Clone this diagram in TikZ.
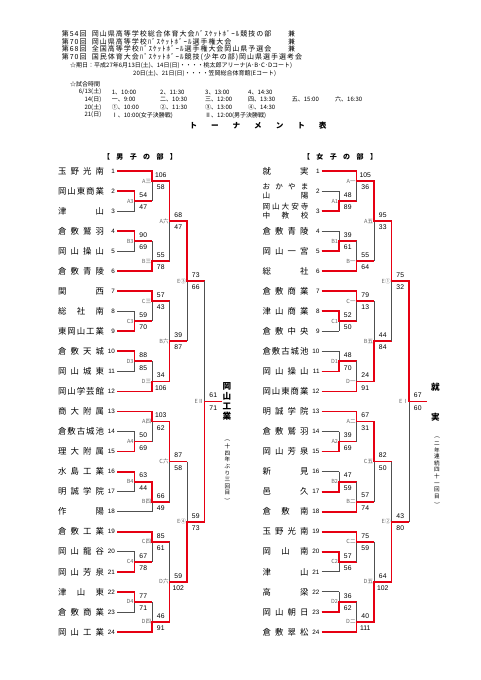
\documentclass[tikz,border=0pt]{standalone}
\usepackage{fontspec}
\setmainfont{Noto Sans CJK JP}
\newfontfamily\numfont{Liberation Sans}
\newfontfamily\hdrfont[LetterSpace=14]{Noto Sans CJK JP}
\usetikzlibrary{positioning}
\definecolor{winline}{HTML}{E60012}
\definecolor{loseline}{HTML}{505050}
\definecolor{boutgray}{HTML}{666666}

% row -> y (rows are 20.04pt apart, row 1 at 171)
\newcommand\ry[1]{(171+20.04*(#1-1))}

% spread the characters of a name over a fixed width
\makeatletter
\newcommand\spread[2][46pt]{\makebox[#1][s]{\spread@#2\@nil}}
\def\spread@#1#2\@nil{#1\ifx\relax#2\relax\else\hfil\spread@#2\@nil\fi}
\makeatother

% team row: id, number, name, end column, line style
\newcommand\team[5]{%
  \node[tname] (#1) at (-36,{\ry{#2}}) {#3};
  \node[tnum] (#1n) at (-1.8,{\ry{#2}}) {#2};
  \draw[#5] (0,{\ry{#2}}) -- ({17.5*#4},{\ry{#2}});}

% bout: id, column, upper row, lower row, exit row, winner row, label, upper score, lower score
\newcommand\bout[9]{%
  \draw[lose] ({17.5*#2},{\ry{#3}}) -- ({17.5*#2},{\ry{#4}});
  \draw[win] ({17.5*(#2-1)},{\ry{#6}}) -- ({17.5*#2},{\ry{#6}})
    -- ({17.5*#2},{\ry{#5}}) -- ({17.5*(#2+1)},{\ry{#5}});
  \node[blbl] (#1) at ({17.5*#2-0.7},{\ry{#5}}) {#7};
  \node[score] (#1a) at ({17.5*#2+8.75},{\ry{#5}-6}) {#8};
  \node[score] (#1b) at ({17.5*#2+8.75},{\ry{#5}+6.3}) {#9};}

\begin{document}
\begin{tikzpicture}[x=1pt, y=-1pt,
    win/.style={draw=winline, line width=1.8pt},
    lose/.style={draw=loseline, line width=0.75pt},
    blbl/.style={font=\fontsize{5.6}{6}\selectfont, text=boutgray, anchor=east, inner sep=0pt},
    score/.style={font=\numfont\fontsize{6.8}{7}\selectfont, inner sep=0pt},
    tname/.style={font=\fontsize{8.4}{9}\selectfont, inner sep=0pt, align=center},
    tnum/.style={font=\numfont\fontsize{6.3}{7}\selectfont, inner sep=0pt, anchor=east},
    hdr/.style={font=\hdrfont\fontsize{7}{7}\selectfont, inner sep=0pt, anchor=west},
    sched/.style={font=\fontsize{6}{6}\selectfont, inner sep=0pt, anchor=west},
    champ/.style={font=\fontsize{8.6}{10}\selectfont\bfseries, inner sep=0pt, align=center},
    vnote/.style={font=\fontsize{5.6}{6.6}\selectfont, inner sep=0pt, align=center}]
\path[fill=white, use as bounding box] (0,0) rectangle (481,680);

% --- heading ---
\node[hdr] (h1) at (61.7,34.3) {第54回};
\node[hdr] (h1t) at (91.7,34.3) {岡山県高等学校総合体育大会ﾊﾞｽｹｯﾄﾎﾞｰﾙ競技の部};
\node[hdr] (h1k) at (288,34.3) {兼};
\node[hdr] (h2) at (61.7,41.8) {第70回};
\node[hdr] (h2t) at (91.7,41.8) {岡山県高等学校ﾊﾞｽｹｯﾄﾎﾞｰﾙ選手権大会};
\node[hdr] (h2k) at (288,41.8) {兼};
\node[hdr] (h3) at (61.7,49.3) {第68回};
\node[hdr] (h3t) at (91.7,49.3) {全国高等学校ﾊﾞｽｹｯﾄﾎﾞｰﾙ選手権大会岡山県予選会};
\node[hdr] (h3k) at (288,49.3) {兼};
\node[hdr] (h4) at (61.7,56.8) {第70回};
\node[hdr] (h4t) at (91.7,56.8) {国民体育大会ﾊﾞｽｹｯﾄﾎﾞｰﾙ競技(少年の部)岡山県選手選考会};

% --- dates and times ---
\node[sched] (date1) at (70,66) {☆期日：平成27年6月13日(土)、14日(日)・・・・桃太郎アリーナ(A･B･C･Dコート)};
\node[sched] (date2) at (133,74) {20日(土)、21日(日)・・・・笠岡総合体育館(Eコート)};
\node[sched] (times) at (70,84) {☆試合時間};
\node[sched, anchor=east] (day1) at (101.5,92) {6/13(土)};
\node[sched, anchor=east] (day2) at (101.5,99.7) {14(日)};
\node[sched, anchor=east] (day3) at (101.5,107.4) {20(土)};
\node[sched, anchor=east] (day4) at (101.5,115.1) {21(日)};
\foreach \x/\t [count=\i] in {111.7/1、10:00, 160/2、11:30, 205/3、13:00, 248/4、14:30}
  \node[sched] (ta\i) at (\x,92) {\t};
\foreach \x/\t [count=\i] in {111.7/一、9:00, 160/二、10:30, 205/三、12:00, 248/四、13:30, 291.7/五、15:00, 335/六、16:30}
  \node[sched] (tb\i) at (\x,99.7) {\t};
\foreach \x/\t [count=\i] in {111.7/①、10:00, 160/②、11:30, 205/③、13:00, 248/④、14:30}
  \node[sched] (tc\i) at (\x,107.4) {\t};
\node[sched] (td1) at (111.7,115.1) {Ⅰ、10:00(女子決勝戦)};
\node[sched] (td2) at (205,115.1) {Ⅱ、12:00(男子決勝戦)};

\node[font=\fontsize{7.6}{8}\selectfont\bfseries, inner sep=0pt] (title) at (258,126) {\spread[137pt]{トーナメント表}};
\node[font=\fontsize{7}{8}\selectfont\bfseries, inner sep=0pt] (mhead) at (140,156.5) {\spread[74pt]{【男子の部】}};
\node[font=\fontsize{7}{8}\selectfont\bfseries, inner sep=0pt] (whead) at (340,156.5) {\spread[74pt]{【女子の部】}};

% --- boys ---
\begin{scope}[xshift=117pt]
\team{m1}{1}{\spread{玉野光南}}{2}{win}
\team{m2}{2}{\spread{岡山東商業}}{1}{win}
\team{m3}{3}{\spread{津山}}{1}{lose}
\team{m4}{4}{\spread{倉敷鷲羽}}{1}{win}
\team{m5}{5}{\spread{岡山操山}}{1}{lose}
\team{m6}{6}{\spread{倉敷青陵}}{2}{win}
\team{m7}{7}{\spread{関西}}{2}{win}
\team{m8}{8}{\spread{総社南}}{1}{lose}
\team{m9}{9}{\spread{東岡山工業}}{1}{win}
\team{m10}{10}{\spread{倉敷天城}}{1}{win}
\team{m11}{11}{\spread{岡山城東}}{1}{lose}
\team{m12}{12}{\spread{岡山学芸館}}{2}{win}
\team{m13}{13}{\spread{商大附属}}{2}{win}
\team{m14}{14}{\spread{倉敷古城池}}{1}{lose}
\team{m15}{15}{\spread{理大附属}}{1}{win}
\team{m16}{16}{\spread{水島工業}}{1}{win}
\team{m17}{17}{\spread{明誠学院}}{1}{lose}
\team{m18}{18}{\spread{作陽}}{2}{lose}
\team{m19}{19}{\spread{倉敷工業}}{2}{win}
\team{m20}{20}{\spread{岡山龍谷}}{1}{lose}
\team{m21}{21}{\spread{岡山芳泉}}{1}{win}
\team{m22}{22}{\spread{津山東}}{1}{win}
\team{m23}{23}{\spread{倉敷商業}}{1}{lose}
\team{m24}{24}{\spread{岡山工業}}{2}{win}
\bout{mA3}{1}{2}{3}{2.5}{2}{A3}{54}{47}
\bout{mB3}{1}{4}{5}{4.5}{4}{B3}{90}{69}
\bout{mC3}{1}{8}{9}{8.5}{9}{C3}{59}{70}
\bout{mD3}{1}{10}{11}{10.5}{10}{D3}{88}{85}
\bout{mA4}{1}{14}{15}{14.5}{15}{A4}{50}{69}
\bout{mB4}{1}{16}{17}{16.5}{16}{B4}{63}{44}
\bout{mC4}{1}{20}{21}{20.5}{21}{C4}{67}{78}
\bout{mD4}{1}{22}{23}{22.5}{22}{D4}{77}{71}
\bout{mAc}{2}{1}{2.5}{1.5}{1}{A三}{106}{58}
\bout{mBc}{2}{4.5}{6}{5.5}{6}{B三}{55}{78}
\bout{mCc}{2}{7}{8.5}{7.5}{7}{C三}{57}{43}
\bout{mDc}{2}{10.5}{12}{11.5}{12}{D三}{34}{106}
\bout{mAd}{2}{13}{14.5}{13.5}{13}{A四}{103}{62}
\bout{mBd}{2}{16.5}{18}{17.5}{16.5}{B四}{66}{49}
\bout{mCd}{2}{19}{20.5}{19.5}{19}{C四}{85}{61}
\bout{mDd}{2}{22.5}{24}{23.5}{24}{D四}{46}{91}
\bout{mAf}{3}{1.5}{5.5}{3.5}{1.5}{A六}{68}{47}
\bout{mBf}{3}{7.5}{11.5}{9.5}{11.5}{B六}{39}{87}
\bout{mCf}{3}{13.5}{17.5}{15.5}{13.5}{C六}{87}{58}
\bout{mDf}{3}{19.5}{23.5}{21.5}{23.5}{D六}{59}{102}
\bout{mE3}{4}{3.5}{9.5}{6.5}{3.5}{E③}{73}{66}
\bout{mE4}{4}{15.5}{21.5}{18.5}{21.5}{E④}{59}{73}
\bout{mfinal}{5}{6.5}{18.5}{12.5}{18.5}{EⅡ}{61}{71}
\end{scope}
\node[champ] (mwin) at (227,401.8) {岡\\山\\工\\業};
\node[vnote] (mnote) at (227.3,470.5) {\rotatebox[origin=c]{-90}{(}\\十\\四\\年\\ぶ\\り\\三\\回\\目\\\rotatebox[origin=c]{-90}{)}};

% --- girls ---
\begin{scope}[xshift=321.5pt]
\team{w1}{1}{\spread{就実}}{2}{win}
\node[tname, font=\fontsize{7.6}{8.6}\selectfont] (w2) at (-36,{\ry{2}}) {\spread{おかやま}\\\spread{山陽}};
\node[tnum] (w2n) at (-1.8,{\ry{2}}) {2};
\draw[lose] (0,{\ry{2}}) -- (17.5,{\ry{2}});
\node[tname, font=\fontsize{7.6}{8.6}\selectfont] (w3) at (-36,{\ry{3}}) {\spread{岡山大安寺}\\\spread{中教校}};
\node[tnum] (w3n) at (-1.8,{\ry{3}}) {3};
\draw[win] (0,{\ry{3}}) -- (17.5,{\ry{3}});
\team{w4}{4}{\spread{倉敷青陵}}{1}{lose}
\team{w5}{5}{\spread{岡山一宮}}{1}{win}
\team{w6}{6}{\spread{総社}}{2}{win}
\team{w7}{7}{\spread{倉敷商業}}{2}{win}
\team{w8}{8}{\spread{津山商業}}{1}{win}
\team{w9}{9}{\spread{倉敷中央}}{1}{lose}
\team{w10}{10}{\spread{倉敷古城池}}{1}{lose}
\team{w11}{11}{\spread{岡山操山}}{1}{win}
\team{w12}{12}{\spread{岡山東商業}}{2}{win}
\team{w13}{13}{\spread{明誠学院}}{2}{win}
\team{w14}{14}{\spread{倉敷鷲羽}}{1}{lose}
\team{w15}{15}{\spread{岡山芳泉}}{1}{win}
\team{w16}{16}{\spread{新見}}{1}{lose}
\team{w17}{17}{\spread{邑久}}{1}{win}
\team{w18}{18}{\spread{倉敷南}}{2}{win}
\team{w19}{19}{\spread{玉野光南}}{2}{win}
\team{w20}{20}{\spread{岡山南}}{1}{win}
\team{w21}{21}{\spread{津山}}{1}{lose}
\team{w22}{22}{\spread{高梁}}{1}{lose}
\team{w23}{23}{\spread{岡山朝日}}{1}{win}
\team{w24}{24}{\spread{倉敷翠松}}{2}{win}
\bout{wA1}{1}{2}{3}{2.5}{3}{A1}{48}{89}
\bout{wB1}{1}{4}{5}{4.5}{5}{B1}{39}{61}
\bout{wC1}{1}{8}{9}{8.5}{8}{C1}{52}{50}
\bout{wD1}{1}{10}{11}{10.5}{11}{D1}{48}{70}
\bout{wA2}{1}{14}{15}{14.5}{15}{A2}{39}{69}
\bout{wB2}{1}{16}{17}{16.5}{17}{B2}{47}{59}
\bout{wC2}{1}{20}{21}{20.5}{20}{C2}{57}{56}
\bout{wD2}{1}{22}{23}{22.5}{23}{D2}{36}{62}
\bout{wAa}{2}{1}{2.5}{1.5}{1}{A一}{105}{36}
\bout{wBa}{2}{4.5}{6}{5.5}{6}{B一}{55}{64}
\bout{wCa}{2}{7}{8.5}{7.5}{7}{C一}{79}{13}
\bout{wDa}{2}{10.5}{12}{11.5}{12}{D一}{24}{91}
\bout{wAb}{2}{13}{14.5}{13.5}{13}{A二}{67}{31}
\bout{wBb}{2}{16.5}{18}{17.5}{18}{B二}{57}{74}
\bout{wCb}{2}{19}{20.5}{19.5}{19}{C二}{75}{59}
\bout{wDb}{2}{22.5}{24}{23.5}{24}{D二}{40}{111}
\bout{wAe}{3}{1.5}{5.5}{3.5}{1.5}{A五}{95}{33}
\bout{wBe}{3}{7.5}{11.5}{9.5}{11.5}{B五}{44}{84}
\bout{wCe}{3}{13.5}{17.5}{15.5}{13.5}{C五}{82}{50}
\bout{wDe}{3}{19.5}{23.5}{21.5}{23.5}{D五}{64}{102}
\bout{wE1}{4}{3.5}{9.5}{6.5}{3.5}{E①}{75}{32}
\bout{wE2}{4}{15.5}{21.5}{18.5}{21.5}{E②}{43}{80}
\bout{wfinal}{5}{6.5}{18.5}{12.5}{6.5}{EⅠ}{67}{60}
\end{scope}
\node[champ] (wwin) at (435.5,401.8) {就\\[20pt]実};
\node[vnote] (wnote) at (437,470.5) {\rotatebox[origin=c]{-90}{(}\\二\\年\\連\\続\\四\\十\\一\\回\\目\\\rotatebox[origin=c]{-90}{)}};
\end{tikzpicture}
\end{document}
